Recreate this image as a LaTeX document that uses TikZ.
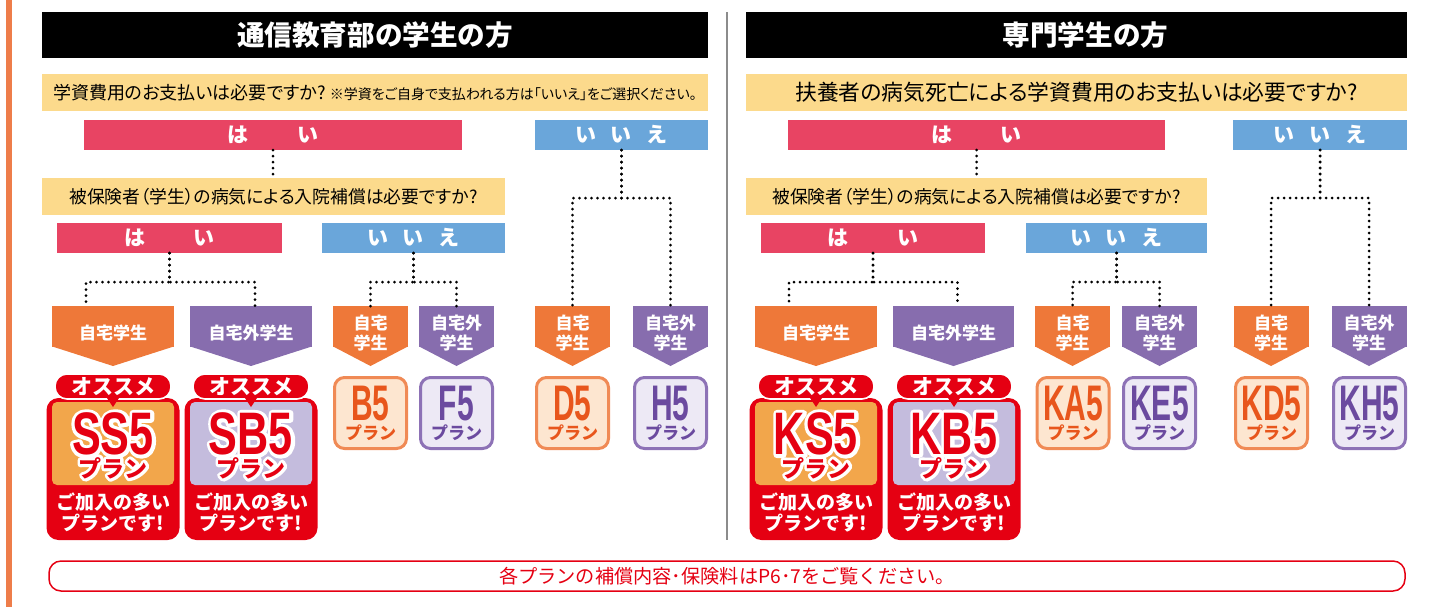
\documentclass[tikz,border=0pt]{standalone}
\usepackage{fontspec}
\newfontfamily\jp[RawFeature=+palt]{Noto Sans CJK JP}
\newfontfamily\jpw{Noto Sans CJK JP}
\newfontfamily\codefont[FakeStretch=0.72]{Liberation Sans}
\newfontfamily\codenarrow[FakeStretch=0.6]{Liberation Sans}
\usetikzlibrary{shapes,arrows}
% white outline under the text (stroke copy, then fill copy)
\newcommand\outlined[2]{\leavevmode\rlap{\special{pdf:literal direct 1 Tr #1 w 1 j 1 1 1 RG}#2\special{pdf:literal direct 0 Tr 0.4 w}}#2}

\definecolor{edgeorange}{HTML}{EE7D4A}
\definecolor{qyellow}{HTML}{FCDA8C}
\definecolor{yespink}{HTML}{E84463}
\definecolor{noblue}{HTML}{6AA6DA}
\definecolor{homeorange}{HTML}{EE7839}
\definecolor{awaypurple}{HTML}{876DAE}
\definecolor{recred}{HTML}{E50012}
\definecolor{panelorange}{HTML}{F2A64B}
\definecolor{panellav}{HTML}{C4BCDD}
\definecolor{peachfill}{HTML}{FDE6D0}
\definecolor{peachline}{HTML}{F08A55}
\definecolor{peachtext}{HTML}{E8561C}
\definecolor{lavfill}{HTML}{EDE9F5}
\definecolor{lavline}{HTML}{8D72B6}
\definecolor{lavtext}{HTML}{6B4A9F}

\tikzset{
  every node/.style={inner sep=0pt, outer sep=0pt},
  header/.style={fill=black, text=white, minimum height=23pt, font=\jpw\bfseries\fontsize{13.8}{13.8}\selectfont},
  question/.style={fill=qyellow, minimum height=18.5pt, font=\jp\fontsize{8.9}{8.9}\selectfont},
  yesbar/.style={fill=yespink, text=white, minimum height=15pt, font=\jpw\bfseries\fontsize{10.5}{10.5}\selectfont},
  nobar/.style={fill=noblue, text=white, minimum height=15pt, font=\jpw\bfseries\fontsize{10.5}{10.5}\selectfont},
  dots/.style={line width=1.5pt, line cap=round, dash pattern=on 0pt off 3pt},
  pentbody/.style={minimum height=20.5pt},
  penttext/.style={text=white, align=center, font=\jpw\bfseries\fontsize{8.5}{10}\selectfont},
  recbox/.style={fill=recred, rounded corners=6pt, minimum width=66.5pt, minimum height=71pt},
  panel/.style={rounded corners=2.5pt, minimum width=61pt, minimum height=41.5pt},
  tab/.style={fill=recred, draw=white, line width=0.8pt, rounded corners=6pt, minimum width=58pt, minimum height=12.5pt,
    text=white, font=\jpw\bfseries\fontsize{10.5}{10.5}\selectfont},
  codebig/.style={text=recred, font=\codefont\bfseries\fontsize{30}{30}\selectfont},
  planbig/.style={text=recred, font=\jpw\bfseries\fontsize{11.5}{11.5}\selectfont},
  rectext/.style={text=white, align=center, font=\jpw\bfseries\fontsize{9.5}{10.5}\selectfont},
  planbox/.style={rounded corners=5pt, line width=1.5pt, minimum width=36pt, minimum height=35.5pt},
  peach/.style={planbox, fill=peachfill, draw=peachline},
  lav/.style={planbox, fill=lavfill, draw=lavline},
  codesmall/.style={font=\codenarrow\bfseries\fontsize{25}{25}\selectfont},
  plansmall/.style={font=\jpw\bfseries\fontsize{8.5}{8.5}\selectfont},
  footer/.style={draw=recred, line width=0.75pt, rounded corners=6pt, minimum width=678pt, minimum height=15pt,
    text=recred, font=\jpw\fontsize{9.6}{9.6}\selectfont}
}

\begin{document}
\begin{tikzpicture}[x=0.5pt,y=-0.5pt]
\useasboundingbox (0,0) rectangle (1430,607);
\fill[edgeorange] (6,0) rectangle (12,607);
\draw[black!45, line width=1pt] (727,12) -- (727,540);

% headers and questions
\node[header, minimum width=333pt] (hl) at (375,35) {通信教育部の学生の方\hspace{5pt}};
\node[header, minimum width=330.5pt] (hr) at (1076.5,35) {\hspace{9pt}専門学生の方};
\node[question, minimum width=333pt, font=\jp\fontsize{9}{9}\selectfont] (q1l) at (375,92.5) {学資費用のお支払いは必要ですか?\ {\fontsize{7}{7}\selectfont ※学資をご自身で支払われる方は「いいえ」をご選択ください。}};
\node[question, minimum width=330.5pt, font=\jp\fontsize{10.9}{10.9}\selectfont] (q1r) at (1076.5,92.5) {扶養者の病気死亡による学資費用のお支払いは必要ですか?};

\node[yesbar, minimum width=189pt] (yes1l) at (273,135) {は\hspace{2.3em}い};
\node[nobar, minimum width=86.5pt] (no1l) at (621.5,135) {い\hspace{0.7em}い\hspace{0.7em}え};
\node[yesbar, minimum width=188.5pt] (yes1r) at (976.5,135) {は\hspace{2.3em}い};
\node[nobar, minimum width=87pt] (no1r) at (1320,135) {い\hspace{0.7em}い\hspace{0.7em}え};

\node[question, minimum width=231.5pt] (q2l) at (273.5,196.5) {被保険者（学生）の病気による入院補償は必要ですか?};
\node[question, minimum width=230.5pt] (q2r) at (976.5,196.5) {被保険者（学生）の病気による入院補償は必要ですか?};

\node[yesbar, minimum width=112.5pt] (yes2l) at (169.5,238) {は\hspace{2.3em}い};
\node[nobar, minimum width=91.5pt] (no2l) at (413.5,238) {い\hspace{0.7em}い\hspace{0.7em}え};
\node[yesbar, minimum width=112pt] (yes2r) at (873,238) {は\hspace{2.3em}い};
\node[nobar, minimum width=90.5pt] (no2r) at (1116.5,238) {い\hspace{0.7em}い\hspace{0.7em}え};

% home / away arrows
\foreach \n/\x/\w/\c/\t in {pA/113/61/homeorange/自宅学生, pB/251/61/awaypurple/自宅外学生,
    pC/370.5/37.5/homeorange/自宅\\学生, pD/456.5/37.5/awaypurple/自宅外\\学生,
    pE/572.5/37.5/homeorange/自宅\\学生, pF/670.5/37.5/awaypurple/自宅外\\学生,
    pG/816/61/homeorange/自宅学生, pH/953.5/60.5/awaypurple/自宅外学生,
    pI/1072.5/37.5/homeorange/自宅\\学生, pJ/1159.5/37.5/awaypurple/自宅外\\学生,
    pK/1271/37.5/homeorange/自宅\\学生, pL/1369/37.5/awaypurple/自宅外\\学生}{
  \node[pentbody, fill=\c, minimum width=\w pt] (\n) at (\x,326.5) {};
  \fill[\c] ([yshift=0.3pt]\n.south west) -- ([yshift=-9.5pt]\n.south) -- ([yshift=0.3pt]\n.south east) -- cycle;
  \node[penttext] (t\n) at (\x,333) {\t};
}

% dotted connectors
\draw[dots] (yes1l.south) -- (yes1l.south |- q2l.north);
\draw[dots] (yes2l.south) -- ++(0,29) -| ([xshift=-13.5pt]pA.north);
\draw[dots] (yes2l.south) -- ++(0,29) -| ([xshift=2pt]pB.north);
\draw[dots] (no2l.south) -- ++(0,29) -| (pC.north);
\draw[dots] (no2l.south) -- ++(0,29) -| (pD.north);
\draw[dots] (no1l.south) -- ++(0,48) -| (pE.north);
\draw[dots] (no1l.south) -- ++(0,48) -| (pF.north);

\draw[dots] (yes1r.south) -- (yes1r.south |- q2r.north);
\draw[dots] (yes2r.south) -- ++(0,29) -| ([xshift=-13.5pt]pG.north);
\draw[dots] (yes2r.south) -- ++(0,29) -| ([xshift=2pt]pH.north);
\draw[dots] (no2r.south) -- ++(0,29) -| (pI.north);
\draw[dots] (no2r.south) -- ++(0,29) -| (pJ.north);
\draw[dots] (no1r.south) -- ++(0,48) -| (pK.north);
\draw[dots] (no1r.south) -- ++(0,48) -| (pL.north);

% recommended plans
\foreach \n/\x/\t/\c in {rA/113/SS5/panelorange, rB/251/SB5/panellav, rC/816/KS5/panelorange, rD/954/KB5/panellav}{
  \node[recbox] (\n) at (\x,469) {};
  \node[panel, fill=\c] (pan\n) at (\x,443.5) {};
  \node[tab] (tab\n) at (\x,386.5) {オススメ};
  \fill[recred] ([xshift=-3pt,yshift=0.5pt]tab\n.south) -- ([yshift=-4pt]tab\n.south) -- ([xshift=3pt,yshift=0.5pt]tab\n.south) -- cycle;
  \node[codebig] (code\n) at (\x,434) {\outlined{3.4}{\t}};
  \node[planbig] (plan\n) at (\x,468) {\outlined{3}{プラン}};
  \node[rectext] (msg\n) at (\x,512) {ご加入の多い\\プランです!};
}

% other plans
\foreach \n/\x/\t/\s/\c in {bB/370.5/B5/peach/peachtext, bF/456.5/F5/lav/lavtext,
    bD/572.5/D5/peach/peachtext, bH/670.5/H5/lav/lavtext,
    bKA/1073/KA5/peach/peachtext, bKE/1159.5/KE5/lav/lavtext,
    bKD/1271.5/KD5/peach/peachtext, bKH/1369.5/KH5/lav/lavtext}{
  \node[\s] (\n) at (\x,413) {};
  \node[codesmall, text=\c] (code\n) at (\x,404) {\t};
  \node[plansmall, text=\c] (plan\n) at (\x,433) {プラン};
}

\node[footer] (foot) at (727,576) {各プランの補償内容･保険料はP6･7をご覧ください。};
\end{tikzpicture}
\end{document}
